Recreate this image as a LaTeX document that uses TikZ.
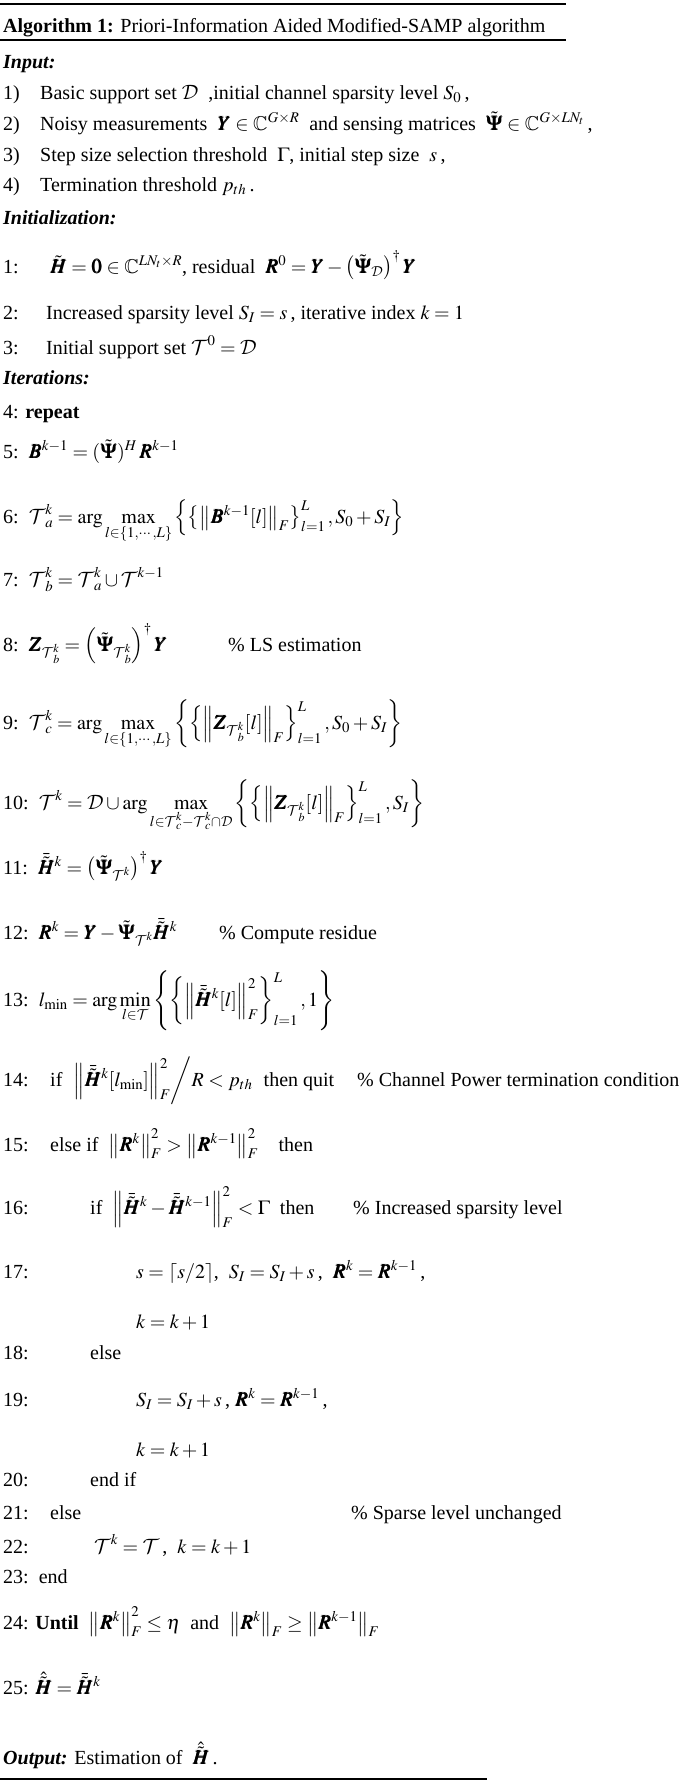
\documentclass[tikz,border=0pt]{standalone}
\usepackage{amsmath,amssymb}
\usepackage{mathptmx}
\DeclareMathAlphabet{\mathcal}{OMS}{cmsy}{m}{n}
\SetMathAlphabet{\mathcal}{bold}{OMS}{cmsy}{b}{n}
\usepackage{bm}
\usepackage{fontspec}
\setmainfont{Liberation Serif}
\newcommand{\myHt}{\tilde{\bm H}}
\newcommand{\myHb}{\bar{\tilde{\bm H}}}
\newcommand{\myHh}{\hat{\tilde{\bm H}}}
\newcommand{\myPsi}{\tilde{\bm\Psi}}
\newcommand{\myT}{\bm{\mathcal T}}
\newcommand{\myD}{\bm{\mathcal D}}
\newcommand{\myR}{\bm R}
\newcommand{\myY}{\bm Y}
\newcommand{\myZ}{\bm Z}
\newcommand{\myB}{\bm B}
\newcommand{\nrm}[1]{\left\|#1\right\|}
\begin{document}
\begin{tikzpicture}[x=1pt,y=-1pt,
  txt/.style={anchor=base west,inner sep=0pt,font=\fontsize{20}{24}\selectfont},
  rul/.style={line width=1.6pt}]
\useasboundingbox (0,0) rectangle (685,1781);
\fill[white] (0,0) rectangle (685,1781);
\draw[rul] (0,4) -- (566,4);
\node[txt] (title) at (3,32) {\textbf{Algorithm 1:} Priori-Information Aided Modified-SAMP algorithm};
\draw[line width=1.1pt] (0,40) -- (566,40);
\node[txt] (in) at (3,68) {\textbf{\textit{Input:}}};
\node[txt] (i1) at (3,99) {1)};
\node[txt] (i1t) at (40,99) {Basic support set $\myD$\ \ ,initial channel sparsity level $S_0$\,,};
\node[txt] (i2) at (3,130) {2)};
\node[txt] (i2t) at (40,130) {Noisy measurements\ \ $\myY\in\mathbb{C}^{G\times R}$\ \ and sensing matrices\ \ $\myPsi\in\mathbb{C}^{G\times LN_t}$\,,};
\node[txt] (i3) at (3,161) {3)};
\node[txt] (i3t) at (40,161) {Step size selection threshold\ \ $\Gamma$, initial step size\ \ $s$\,,};
\node[txt] (i4) at (3,191) {4)};
\node[txt] (i4t) at (40,191) {Termination threshold $p_{th}$\,.};
\node[txt] (ini) at (3,224) {\textbf{\textit{Initialization:}}};
\node[txt] (n1) at (3,273) {1:};
\node[txt] (n1t) at (50,273) {$\myHt=\bm 0\in\mathbb{C}^{LN_t\times R}$, residual\ \ $\myR^0=\myY-\left(\myPsi_{\mathcal D}\right)^{\dagger}\myY$};
\node[txt] (n2) at (3,319) {2:};
\node[txt] (n2t) at (46,319) {Increased sparsity level $S_I=s$\,, iterative index $k=1$};
\node[txt] (n3) at (3,354) {3:};
\node[txt] (n3t) at (46,354) {Initial support set $\myT^0=\myD$};
\node[txt] (it) at (3,384) {\textbf{\textit{Iterations:}}};
\node[txt] (n4) at (3,418) {4: \textbf{repeat}};
\node[txt] (n5) at (3,458) {5:\ \ $\myB^{k-1}=(\myPsi)^H\,\myR^{k-1}$};
\node[txt] (n6) at (3,523) {6:\ \ $\myT_a^k=\arg\max\limits_{l\in\{1,\cdots,L\}}\left\{\left\{\nrm{\myB^{k-1}[l]}_F\right\}_{l=1}^{L},S_0+S_I\right\}$};
\node[txt] (n7) at (3,586) {7:\ \ $\myT_b^k=\myT_a^k\cup\myT^{k-1}$};
\node[txt] (n8) at (3,651) {8:\ \ $\myZ_{\myT_b^k}=\left(\myPsi_{\myT_b^k}\right)^{\dagger}\myY$};
\node[txt] (c8) at (228,651) {\% LS estimation};
\node[txt] (n9) at (3,729) {9:\ \ $\myT_c^k=\arg\max\limits_{l\in\{1,\cdots,L\}}\left\{\left\{\nrm{\myZ_{\myT_b^k}[l]}_F\right\}_{l=1}^{L},S_0+S_I\right\}$};
\node[txt] (n10) at (3,809) {10:\ \ $\myT^k=\myD\cup\arg\max\limits_{l\in\myT_c^k-\myT_c^k\cap\myD}\left\{\left\{\nrm{\myZ_{\myT_b^k}[l]}_F\right\}_{l=1}^{L},S_I\right\}$};
\node[txt] (n11) at (3,874) {11:\ \ $\myHb^k=\left(\myPsi_{\myT^k}\right)^{\dagger}\myY$};
\node[txt] (n12) at (3,939) {12:\ \ $\myR^k=\myY-\myPsi_{\myT^k}\myHb^k$};
\node[txt] (c12) at (219,939) {\% Compute residue};
\node[txt] (n13) at (3,1006) {13:\ \ $l_{\min}=\arg\min\limits_{l\in\myT}\left\{\left\{\nrm{\myHb^k[l]}_F^2\right\}_{l=1}^{L},1\right\}$};
\node[txt] (n14) at (3,1086) {14:};
\node[txt] (n14t) at (50,1086) {if\ \ $\left.\nrm{\myHb^k[l_{\min}]}_F^2\middle/R<p_{th}\right.$\ \ then quit};
\node[txt] (c14) at (357,1086) {\% Channel Power termination condition};
\node[txt] (n15) at (3,1151) {15:};
\node[txt] (n15t) at (50,1151) {else if\ \ $\nrm{\myR^k}_F^2>\nrm{\myR^{k-1}}_F^2$\quad then};
\node[txt] (n16) at (3,1214) {16:};
\node[txt] (n16t) at (90,1214) {if\ \ $\nrm{\myHb^k-\myHb^{k-1}}_F^2<\Gamma$\ \ then};
\node[txt] (c16) at (353,1214) {\% Increased sparsity level};
\node[txt] (n17) at (3,1278) {17:};
\node[txt] (n17t) at (136,1278) {$s=\lceil s/2\rceil$,\ \ $S_I=S_I+s$\,,\ \ $\myR^k=\myR^{k-1}$\,,};
\node[txt] (n17b) at (136,1328) {$k=k+1$};
\node[txt] (n18) at (3,1359) {18:};
\node[txt] (n18t) at (90,1359) {else};
\node[txt] (n19) at (3,1406) {19:};
\node[txt] (n19t) at (136,1406) {$S_I=S_I+s$\,, $\myR^k=\myR^{k-1}$\,,};
\node[txt] (n19b) at (136,1456) {$k=k+1$};
\node[txt] (n20) at (3,1486) {20:};
\node[txt] (n20t) at (90,1486) {end if};
\node[txt] (n21) at (3,1519) {21:};
\node[txt] (n21t) at (50,1519) {else};
\node[txt] (c21) at (351,1519) {\% Sparse level unchanged};
\node[txt] (n22) at (3,1553) {22:};
\node[txt] (n22t) at (94,1553) {$\myT^k=\myT$\,,\ \ $k=k+1$};
\node[txt] (n23) at (3,1583) {23:\ \ end};
\node[txt] (n24) at (3,1629) {24: \textbf{Until}\ \ $\nrm{\myR^k}_F^2\le\eta$\ \ and\ \ $\nrm{\myR^k}_F\ge\nrm{\myR^{k-1}}_F$};
\node[txt] (n25) at (3,1694) {25: $\myHh=\myHb^k$};
\node[txt] (out) at (3,1764) {\textbf{\textit{Output:}} Estimation of\ \ $\myHh$\,.};
\draw[rul] (0,1779) -- (487,1779);
\end{tikzpicture}
\end{document}
